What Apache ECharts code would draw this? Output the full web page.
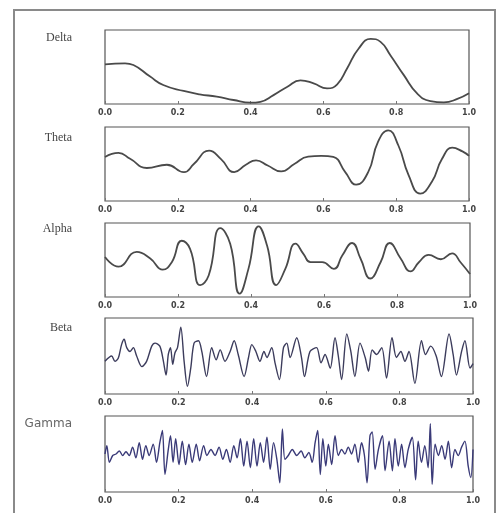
<!DOCTYPE html>
<html>
<head>
<meta charset="utf-8">
<script src="https://cdn.jsdelivr.net/npm/echarts@6/dist/echarts.min.js"></script>
<style>
html,body{margin:0;padding:0;background:#fff;}
#chart{width:502px;height:513px;}
</style>
</head>
<body>
<div id="chart"></div>
<script>
// Band names
var bandNames = ["Delta", "Theta", "Alpha", "Beta", "Gamma"];
// x tick labels
var xTicks = [0.0, 0.2, 0.4, 0.6, 0.8, 1.0];

// Signal samples [time, amplitude(0-100 of panel)]
var delta = [[0,53.6],[0.055,55],[0.078,52.7],[0.124,37],[0.16,25.7],[0.216,17.6],[0.26,13],[0.307,10],[0.353,5.4],[0.4,1.8],[0.427,3],[0.463,12],[0.5,23],[0.537,32],[0.573,28],[0.61,21],[0.638,26.6],[0.665,48],[0.697,75],[0.73,88],[0.757,84],[0.784,66],[0.821,39],[0.858,14],[0.894,4],[0.931,2.3],[0.968,6.8],[1.0,14.4]];

var theta = [[0,59.5],[0.037,65],[0.069,57],[0.115,44.6],[0.17,49],[0.217,39],[0.244,50],[0.286,68],[0.318,57],[0.355,39],[0.387,49],[0.415,55],[0.447,48],[0.484,40],[0.52,50],[0.558,60],[0.594,61],[0.627,59.5],[0.66,39],[0.69,22],[0.723,39],[0.75,80],[0.778,95.5],[0.806,75],[0.834,35],[0.866,10],[0.898,26],[0.926,57],[0.954,72],[0.982,67],[1.0,61]];

var alpha = [[0,54],[0.037,41],[0.087,61],[0.124,52],[0.158,37],[0.183,47],[0.21,76],[0.233,65],[0.261,16],[0.284,29],[0.316,93],[0.343,72],[0.369,4.5],[0.393,38],[0.421,95.5],[0.444,69.5],[0.469,16],[0.494,38],[0.522,72],[0.544,58],[0.563,47],[0.595,47],[0.627,38],[0.65,56],[0.677,73],[0.7,52],[0.727,25],[0.755,47],[0.78,73],[0.81,52],[0.837,34.5],[0.86,47],[0.887,57],[0.92,51],[0.951,59],[0.974,47],[1.0,31]];

var beta = [[0,43],[0.018,50],[0.027,43],[0.036,47],[0.045,65],[0.052,72],[0.059,61],[0.068,56],[0.077,61],[0.086,50],[0.1,36],[0.113,43],[0.127,63],[0.136,67],[0.149,63],[0.158,45],[0.166,25],[0.172,52],[0.178,61],[0.184,39],[0.19,54],[0.197,61],[0.206,88],[0.215,43],[0.224,10],[0.233,34],[0.242,67],[0.254,70],[0.263,56],[0.276,23],[0.29,61],[0.302,45],[0.313,58],[0.326,43],[0.34,56],[0.351,70],[0.362,52],[0.378,23],[0.39,48],[0.399,65],[0.41,56],[0.421,43],[0.432,56],[0.44,48],[0.453,61],[0.462,41],[0.474,19],[0.485,61],[0.494,67],[0.503,48],[0.521,74],[0.534,48],[0.542,23],[0.557,56],[0.575,61],[0.587,41],[0.598,52],[0.612,34],[0.625,74],[0.634,50],[0.643,19],[0.657,79],[0.668,56],[0.679,23],[0.693,67],[0.707,48],[0.716,30],[0.726,58],[0.738,52],[0.752,61],[0.765,21],[0.78,74],[0.792,48],[0.804,56],[0.815,43],[0.826,56],[0.842,14],[0.86,70],[0.871,52],[0.885,63],[0.9,50],[0.914,23],[0.935,79],[0.946,52],[0.955,25],[0.969,56],[0.978,70],[0.992,34],[1.0,40]];

var gamma = [[0,50],[0.005,61],[0.012,39],[0.021,48],[0.03,50],[0.039,54],[0.048,48],[0.057,53],[0.066,48],[0.075,59],[0.084,45],[0.093,65],[0.102,43],[0.111,61],[0.12,48],[0.131,63],[0.14,39],[0.149,65],[0.156,81],[0.163,23],[0.172,56],[0.178,74],[0.185,39],[0.192,70],[0.201,36],[0.21,67],[0.219,36],[0.228,63],[0.237,39],[0.248,63],[0.257,41],[0.268,61],[0.277,48],[0.288,56],[0.299,48],[0.31,59],[0.32,43],[0.33,56],[0.34,39],[0.35,61],[0.359,45],[0.368,70],[0.377,34],[0.386,67],[0.395,32],[0.404,70],[0.413,34],[0.422,65],[0.431,39],[0.44,72],[0.449,30],[0.458,65],[0.467,43],[0.475,12],[0.482,83],[0.489,43],[0.498,48],[0.509,56],[0.521,48],[0.533,54],[0.543,45],[0.554,52],[0.563,39],[0.571,65],[0.578,81],[0.585,23],[0.592,70],[0.6,34],[0.607,63],[0.616,36],[0.625,74],[0.634,48],[0.643,56],[0.652,50],[0.661,59],[0.67,50],[0.679,63],[0.688,39],[0.697,65],[0.705,48],[0.712,12],[0.72,74],[0.726,79],[0.734,30],[0.743,56],[0.754,74],[0.761,28],[0.772,67],[0.781,28],[0.788,70],[0.797,34],[0.806,63],[0.815,32],[0.824,56],[0.835,72],[0.844,16],[0.851,67],[0.86,39],[0.869,61],[0.878,32],[0.884,90],[0.889,10],[0.897,63],[0.906,48],[0.915,61],[0.924,43],[0.933,67],[0.942,32],[0.951,56],[0.96,48],[0.969,59],[0.978,67],[0.987,34],[0.994,19],[1.0,56]];

var signals = [delta, theta, alpha, beta, gamma];

var grids = [
  {left:105, top:30, width:364, height:74},
  {left:105, top:127, width:364, height:74},
  {left:105, top:223, width:365, height:74},
  {left:105, top:318, width:368, height:76},
  {left:105, top:416, width:368, height:76}
];
var lineColors = ['#4a4a4a','#4a4a4a','#4a4a4a','#3c3c5c','#3a3a78'];
var labelY = [38, 138, 229, 328, 424];

var chart = echarts.init(document.getElementById('chart'), null, {renderer:'canvas'});

var option = {
  backgroundColor:'#fff',
  animation:false,
  grid: grids.map(function(g){
    return Object.assign({show:true, borderColor:'#555', borderWidth:1.2, backgroundColor:'#fff', containLabel:false}, g);
  }),
  xAxis: grids.map(function(g,i){
    return {
      gridIndex:i, type:'value', min:0, max:1, interval:0.2,
      axisLine:{show:false},
      axisTick:{show:true, inside:true, length:3, lineStyle:{color:'#777'}},
      splitLine:{show:false},
      axisLabel:{fontSize:8, fontWeight:'bold', color:'#444', fontFamily:'DejaVu Sans', margin:5,
        formatter:function(v){return (Math.round(v*10)/10).toFixed(1);}}
    };
  }),
  yAxis: grids.map(function(g,i){
    return {gridIndex:i, type:'value', min:0, max:100, show:false};
  }),
  series: signals.map(function(s,i){
    return {
      type:'line', xAxisIndex:i, yAxisIndex:i, data:s, showSymbol:false,
      smooth: i < 3 ? 0.5 : 0.3,
      lineStyle:{color:lineColors[i], width: i < 3 ? 1.8 : 1.4},
      silent:true
    };
  }),
  graphic: [
    {type:'rect', shape:{x:14, y:10, width:481, height:510}, style:{fill:'none', stroke:'#8a8a8a', lineWidth:2}, silent:true}
  ].concat(bandNames.map(function(n,i){
    return {type:'text', x:72, y:labelY[i], style:{text:n, textAlign:'right', textVerticalAlign:'middle',
      fontSize:12, fontFamily: i===4 ? 'DejaVu Sans' : 'Liberation Serif', fill: i===4 ? '#666' : '#444'}, silent:true};
  }))
};
chart.setOption(option);
</script>
</body>
</html>
